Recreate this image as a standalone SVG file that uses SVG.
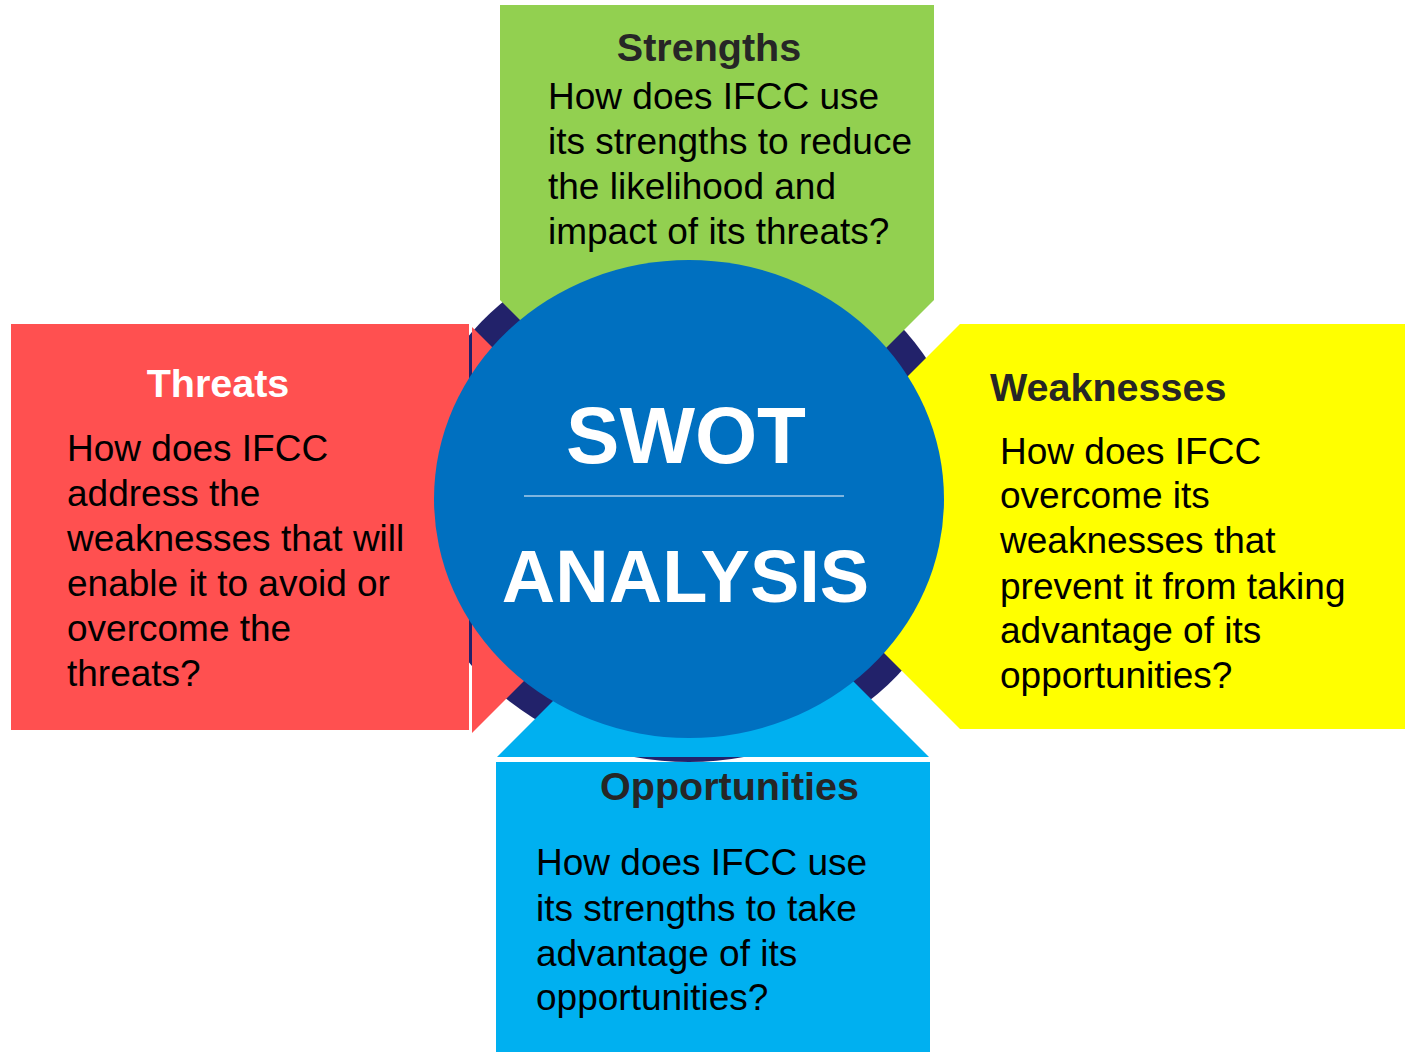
<svg xmlns="http://www.w3.org/2000/svg" width="1405" height="1052" viewBox="0 0 1405 1052">
<style>
.title{font-family:"Liberation Sans",Arial,sans-serif;font-weight:bold;font-size:39.5px;fill:#262626}
.body{font-family:"Liberation Sans",Arial,sans-serif;font-size:37px;fill:#000}
.center{font-family:"Liberation Sans",Arial,sans-serif;font-weight:bold;fill:#fff;text-anchor:middle}
</style>
<rect width="1405" height="1052" fill="#fff"/>
<ellipse id="ring" cx="689" cy="499" rx="281" ry="263" fill="#22226a"/>
<g id="strengths">
<polygon points="500,5 934,5 934,300 717,517 500,300" fill="#92d050"/>
<text class="title" x="709" y="61" text-anchor="middle">Strengths</text>
<text class="body"><tspan x="548" y="109">How does IFCC use</tspan><tspan x="548" y="154">its strengths to reduce</tspan><tspan x="548" y="199">the likelihood and</tspan><tspan x="548" y="244">impact of its threats?</tspan></text>
</g>
<g id="threats">
<rect x="11" y="324" width="458" height="406" fill="#ff5050"/>
<polygon points="472,327 675,530 472,733" fill="#ff5050"/>
<text class="title" x="218" y="397" text-anchor="middle" style="fill:#fff">Threats</text>
<text class="body"><tspan x="67" y="461">How does IFCC</tspan><tspan x="67" y="506">address the</tspan><tspan x="67" y="551">weaknesses that will</tspan><tspan x="67" y="596">enable it to avoid or</tspan><tspan x="67" y="641">overcome the</tspan><tspan x="67" y="686">threats?</tspan></text>
</g>
<g id="weaknesses">
<polygon points="960,324 1405,324 1405,729 960,729 757.5,526.5" fill="#ffff00"/>
<text class="title" x="990" y="401">Weaknesses</text>
<text class="body"><tspan x="1000" y="464">How does IFCC</tspan><tspan x="1000" y="508">overcome its</tspan><tspan x="1000" y="553">weaknesses that</tspan><tspan x="1000" y="599">prevent it from taking</tspan><tspan x="1000" y="643">advantage of its</tspan><tspan x="1000" y="688">opportunities?</tspan></text>
</g>
<g id="opportunities">
<polygon points="497,757 929,757 713,541" fill="#00b0f0"/>
<rect x="496" y="762" width="434" height="290" fill="#00b0f0"/>
<text class="title" x="729.5" y="800" text-anchor="middle">Opportunities</text>
<text class="body"><tspan x="536" y="875">How does IFCC use</tspan><tspan x="536" y="921">its strengths to take</tspan><tspan x="536" y="966">advantage of its</tspan><tspan x="536" y="1010">opportunities?</tspan></text>
</g>
<g id="swot">
<ellipse cx="689" cy="499" rx="255" ry="239" fill="#0070c0"/>
<text class="center" x="686" y="463" font-size="80">SWOT</text>
<line x1="524" y1="496" x2="844" y2="496" stroke="#a8cdea" stroke-width="1.5"/>
<text class="center" x="685.5" y="602" font-size="74">ANALYSIS</text>
</g>
</svg>
